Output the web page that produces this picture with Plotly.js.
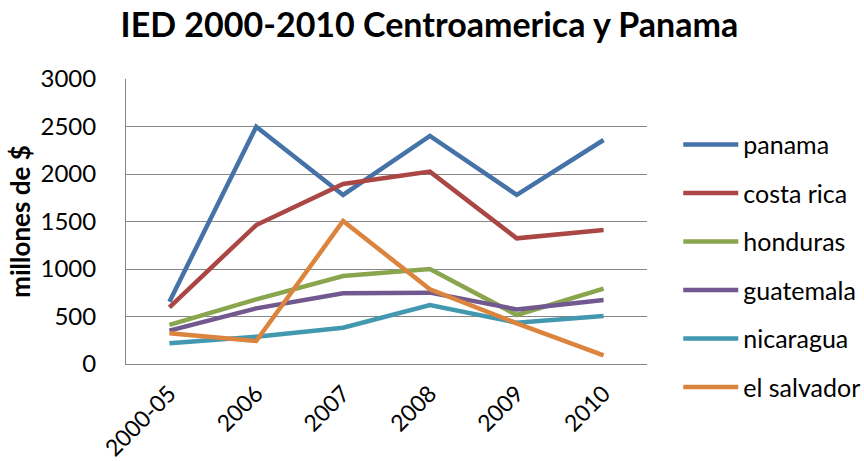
<!DOCTYPE html>
<html><head><meta charset="utf-8">
<script src="https://cdn.plot.ly/plotly-3.0.1.min.js"></script>
<style>html,body{margin:0;padding:0;background:#fff}</style>
</head><body><div id="chart" style="width:864px;height:461px"></div>
<script>
const categories = ["2000-05","2006","2007","2008","2009","2010"];
const panama     = [656, 2498, 1780, 2400, 1780, 2358];
const costaRica  = [597, 1463, 1895, 2025, 1323, 1411];
const honduras   = [411, 681, 926, 1000, 516, 793];
const guatemala  = [351, 586, 744, 751, 575, 674];
const nicaragua  = [218, 288, 382, 621, 435, 505];
const elSalvador = [323, 242, 1505, 786, 428, 91];
const seriesNames = ["panama","costa rica","honduras","guatemala","nicaragua","el salvador"];
const seriesColors = ["#4572A7","#AA4643","#89A54E","#71588F","#4198AF","#DB843D"];
const seriesValues = [panama, costaRica, honduras, guatemala, nicaragua, elSalvador];
const yTicks = [0,500,1000,1500,2000,2500,3000];

const FONT = 'Lato, Calibri, Carlito, sans-serif';
const traces = seriesValues.map((v,i)=>({
  x: categories, y: v, type:'scatter', mode:'lines', name: seriesNames[i],
  legendgroup: 'g'+i,
  line:{color: seriesColors[i], width:4.5}
}));
const layout = {
  width:864, height:461,
  margin:{l:126, r:217, t:79, b:97, autoexpand:false},
  paper_bgcolor:'#fff', plot_bgcolor:'#fff',
  font:{family:FONT, size:25, color:'#000'},
  title:{text:'<b>IED 2000-2010 Centroamerica y Panama</b>', x:0.497, xanchor:'center', y:0.945, yanchor:'middle',
         font:{family:FONT, size:34, color:'#000'}},
  xaxis:{type:'category', range:[-0.5,5.5], tickangle:-45, showgrid:false, showline:true, linecolor:'#868686', linewidth:1,
         ticks:'', tickfont:{size:23}, zeroline:false, ticklabelstandoff:6},
  yaxis:{range:[0,3000], tickvals:yTicks, showgrid:true, gridcolor:'#868686', gridwidth:1, showline:true, linecolor:'#868686',
         ticks:'', zeroline:false, tickfont:{size:24}, ticklabelstandoff:24,
         title:{text:'<b>millones de $</b>', font:{size:26}, standoff:2}},
  legend:{x:1.06, xanchor:'left', y:0.85, yanchor:'top', font:{size:25}, tracegroupgap:13, traceorder:'grouped', itemwidth:55,
          bgcolor:'rgba(0,0,0,0)'},
  showlegend:true
};
Plotly.newPlot('chart', traces, layout, {displayModeBar:false, staticPlot:true});
</script></body></html>
